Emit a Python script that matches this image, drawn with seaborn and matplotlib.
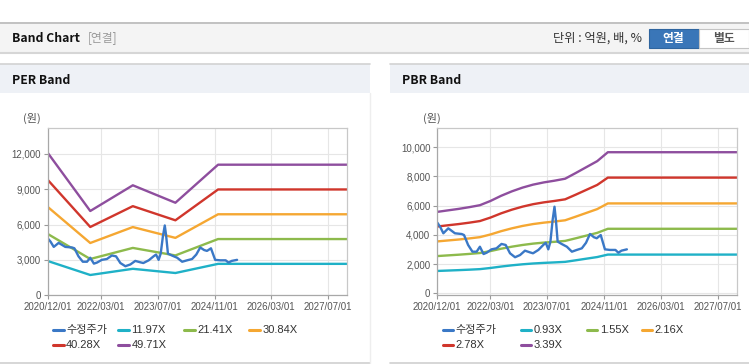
import matplotlib
matplotlib.use("Agg")
import matplotlib.dates as mdates
import matplotlib.pyplot as plt
import pandas as pd
import seaborn as sns
from matplotlib.lines import Line2D
from matplotlib.patches import Rectangle
from matplotlib.ticker import FuncFormatter

# ============================================================================
# DATOS
# ============================================================================

price_label = "수정주가"
price_dates = [
    "2020-12-01", "2020-12-25", "2021-01-22", "2021-03-05", "2021-04-01", "2021-05-01",
    "2021-06-28", "2021-07-18", "2021-08-22", "2021-09-28", "2021-11-03", "2021-12-01",
    "2022-01-01", "2022-01-28", "2022-03-10", "2022-04-22", "2022-06-04", "2022-07-10",
    "2022-08-16", "2022-09-28", "2022-11-10", "2022-12-22", "2023-02-04", "2023-03-01",
    "2023-04-16", "2023-05-28", "2023-06-18", "2023-07-10", "2023-07-28", "2023-08-16",
    "2023-09-01", "2023-09-13", "2023-09-28", "2023-11-01", "2023-12-16", "2024-01-28",
    "2024-03-10", "2024-04-22", "2024-05-28", "2024-07-01", "2024-08-04", "2024-08-28",
    "2024-10-01", "2024-11-06", "2024-12-19", "2025-02-04", "2025-03-01", "2025-03-28",
    "2025-05-13",
]
price_values = [
    4840, 4560, 4110, 4450, 4290, 4110, 4060, 3990, 3310, 2850, 2850, 3190,
    2690, 2780, 3010, 3080, 3380, 3310, 2740, 2470, 2620, 2920, 2800, 2740,
    2970, 3310, 3460, 3010, 3540, 5020, 5930, 5020, 3540, 3380, 3190, 2850,
    2970, 3080, 3460, 4060, 3840, 3770, 3990, 3010, 2970, 2970, 2780, 2920,
    3010,
]

# PER band
per_dates = ["2020-12-01", "2021-12-01", "2022-12-01", "2023-12-01", "2024-12-01", "2027-12-15"]
per_labels = ["11.97X", "21.41X", "30.84X", "40.28X", "49.71X"]
per_1197 = [2914, 1724, 2249, 1893, 2670, 2670]
per_2141 = [5211, 3083, 4023, 3385, 4776, 4776]
per_3084 = [7507, 4441, 5795, 4876, 6880, 6880]
per_4028 = [9804, 5800, 7569, 6368, 8987, 8987]
per_4971 = [12100, 7158, 9341, 7859, 11090, 11090]

# PBR band
pbr_dates = [
    "2020-12-01", "2021-03-01", "2021-06-01", "2021-09-01", "2021-12-01", "2022-03-01",
    "2022-06-01", "2022-09-01", "2022-12-01", "2023-03-01", "2023-06-01", "2023-09-01",
    "2023-12-01", "2024-03-01", "2024-06-01", "2024-09-01", "2024-12-01", "2027-12-15",
]
pbr_labels = ["0.93X", "1.55X", "2.16X", "2.78X", "3.39X"]
pbr_093 = [1530, 1558, 1586, 1618, 1655, 1734, 1832, 1916, 1986, 2041, 2083, 2116, 2153, 2260, 2372, 2483, 2651, 2651]
pbr_155 = [2550, 2596, 2643, 2697, 2759, 2891, 3054, 3193, 3309, 3402, 3472, 3526, 3588, 3767, 3953, 4139, 4418, 4418]
pbr_216 = [3553, 3618, 3683, 3758, 3845, 4028, 4255, 4450, 4612, 4741, 4838, 4914, 5000, 5249, 5508, 5767, 6156, 6156]
pbr_278 = [4573, 4657, 4740, 4837, 4948, 5185, 5477, 5727, 5935, 6102, 6227, 6325, 6436, 6755, 7089, 7423, 7923, 7923]
pbr_339 = [5577, 5678, 5780, 5899, 6034, 6322, 6678, 6983, 7238, 7441, 7594, 7712, 7848, 8238, 8645, 9051, 9662, 9662]

x_ticks = ["2020/12/01", "2022/03/01", "2023/07/01", "2024/11/01", "2026/03/01", "2027/07/01"]
per_yticks = [0, 3000, 6000, 9000, 12000]
pbr_yticks = [0, 2000, 4000, 6000, 8000, 10000]

PRICE_COLOR = "#3a78c6"
BAND_COLORS = ["#1fb1c7", "#8dba4c", "#f5a732", "#d0362c", "#8e4e9e"]
FONT = ["Liberation Sans", "Noto Sans CJK KR", "DejaVu Sans"]
FONT_KR = ["Noto Sans CJK KR", "DejaVu Sans"]

W, H = 749, 364

sns.set_theme(style="white")
plt.rcParams["font.family"] = FONT


def band_frame(dates, labels, series):
    rows = []
    for label, values in zip(labels, series):
        rows.append(pd.DataFrame({"date": pd.to_datetime(dates), "value": values, "series": label}))
    return pd.concat(rows, ignore_index=True)


def axes_rect(left, top, width, bottom):
    return [left / W, (H - bottom) / H, width / W, (bottom - top) / H]


def draw_band(ax, band_df, labels, yticks, ylim):
    sns.lineplot(
        data=band_df, x="date", y="value", hue="series", hue_order=labels,
        palette=dict(zip(labels, BAND_COLORS)), linewidth=1.7, legend=False, ax=ax,
    )
    price_df = pd.DataFrame({"date": pd.to_datetime(price_dates), "value": price_values})
    sns.lineplot(data=price_df, x="date", y="value", color=PRICE_COLOR, linewidth=1.7, ax=ax)

    ax.set_xlim(pd.Timestamp("2020-12-01"), pd.Timestamp("2027-12-15"))
    ax.set_ylim(*ylim)
    ax.set_xticks(pd.to_datetime(x_ticks, format="%Y/%m/%d"))
    ax.xaxis.set_major_formatter(mdates.DateFormatter("%Y/%m/%d"))
    ax.set_yticks(yticks)
    ax.yaxis.set_major_formatter(FuncFormatter(lambda v, p: f"{int(v):,}"))
    ax.set_xlabel("")
    ax.set_ylabel("")
    ax.grid(True, color="#e6e6e6", linewidth=0.8)
    ax.set_axisbelow(True)
    ax.tick_params(axis="both", length=3, width=0.8, color="#999999", pad=2,
                   labelsize=7, labelcolor="#555555", left=True, bottom=True)
    for side, spine in ax.spines.items():
        spine.set_color("#a8a8a8" if side in ("left", "bottom") else "#c8c8c8")
        spine.set_linewidth(0.9)


def draw_legend(bg, entries, xs, ys):
    for (label, color), x, y in zip(entries, xs, ys):
        bg.add_line(Line2D([x, x + 10.5], [y, y], color=color, linewidth=2.2))
        bg.text(x + 13, y, label, fontsize=8, color="#333333", va="center",
                ha="left", family=FONT)


fig = plt.figure(figsize=(W / 100, H / 100), dpi=100)
fig.patch.set_facecolor("white")

# Fondo con cabeceras en coordenadas de pixel
bg = fig.add_axes([0, 0, 1, 1])
bg.set_xlim(0, W)
bg.set_ylim(H, 0)
bg.axis("off")

bg.add_patch(Rectangle((0, 22), W, 30, facecolor="#f4f4f4", edgecolor="none"))
bg.add_line(Line2D([0, W], [22.5, 22.5], color="#b9b9b9", linewidth=1.2))
bg.add_line(Line2D([0, W], [52.5, 52.5], color="#d6d6d6", linewidth=1.5))
bg.text(11.5, 38, "Band Chart", fontsize=8.8, fontweight="bold", family=FONT_KR,
        va="center", ha="left", color="#111111")
bg.text(88, 38, "[연결]", fontsize=8.5, family=FONT_KR, va="center", ha="left", color="#999999")
bg.text(642, 38.5, "단위 : 억원, 배, %", fontsize=8.8, family=FONT_KR, va="center", ha="right",
        color="#333333")
bg.add_patch(Rectangle((648.5, 28.5), 50.5, 19.5, facecolor="#3a76b8", edgecolor="#2f659f",
                       linewidth=0.8))
bg.add_patch(Rectangle((699, 28.5), 50, 19.5, facecolor="white", edgecolor="#c4c4c4",
                       linewidth=0.8))
bg.text(673.5, 38.5, "연결", fontsize=8.5, fontweight="bold", family=FONT_KR, va="center",
        ha="center", color="white")
bg.text(723.5, 38.5, "별도", fontsize=8.5, fontweight="bold", family=FONT_KR, va="center",
        ha="center", color="#555555")

for x0, x1, title in [(0, 370, "PER Band"), (390, W, "PBR Band")]:
    bg.add_patch(Rectangle((x0, 64), x1 - x0, 29, facecolor="#eef1f6", edgecolor="none"))
    bg.add_line(Line2D([x0, x1], [64, 64], color="#d2d2d2", linewidth=1.2))
    bg.add_line(Line2D([x0, x1], [363, 363], color="#d0d0d0", linewidth=1.2))
    bg.text(x0 + 11.5, 80, title, fontsize=8.8, fontweight="bold", family=FONT_KR,
            va="center", ha="left", color="#111111")
bg.add_line(Line2D([370, 370], [93, 363], color="#eeeeee", linewidth=1))

bg.text(32, 118, "(원)", fontsize=8, family=FONT_KR, va="center", ha="center", color="#555555")
bg.text(432, 118, "(원)", fontsize=8, family=FONT_KR, va="center", ha="center", color="#555555")

# PER Band
ax_per = fig.add_axes(axes_rect(47.7, 128.3, 299.7, 295.3))
per_df = band_frame(per_dates, per_labels, [per_1197, per_2141, per_3084, per_4028, per_4971])
draw_band(ax_per, per_df, per_labels, per_yticks, (0, 14180))

# PBR Band
ax_pbr = fig.add_axes(axes_rect(437.3, 128.3, 300, 295.3))
pbr_df = band_frame(pbr_dates, pbr_labels, [pbr_093, pbr_155, pbr_216, pbr_278, pbr_339])
draw_band(ax_pbr, pbr_df, pbr_labels, pbr_yticks, (-137, 11300))

# Leyendas
row_y = [330, 330, 330, 330, 344.5, 344.5]
per_entries = [(price_label, PRICE_COLOR)] + list(zip(per_labels, BAND_COLORS))
draw_legend(bg, per_entries, [53, 118.3, 184.3, 249.3, 53, 118.3], row_y)
pbr_entries = [(price_label, PRICE_COLOR)] + list(zip(pbr_labels, BAND_COLORS))
draw_legend(bg, pbr_entries, [442.7, 520.7, 586.7, 641.7, 442.7, 520.7], row_y)

fig.savefig("out.png", dpi=100)
plt.close(fig)
